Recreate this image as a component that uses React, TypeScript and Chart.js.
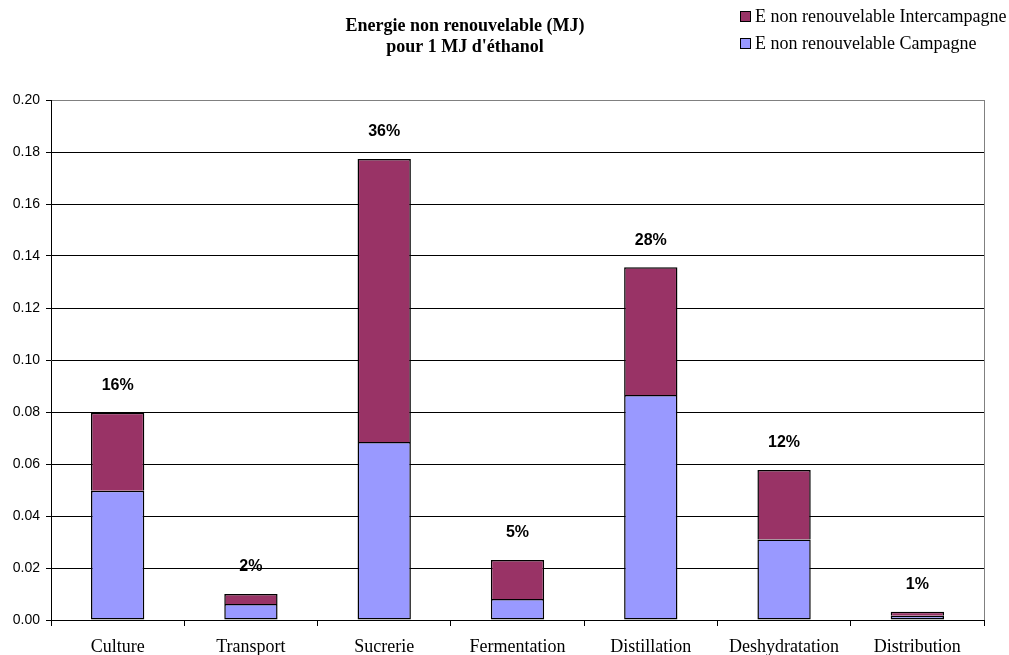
import { useEffect, useRef } from "react";
import { Chart, registerables } from "chart.js";

Chart.register(...registerables);

// Process steps along the ethanol chain
const categories = [
  "Culture",
  "Transport",
  "Sucrerie",
  "Fermentation",
  "Distillation",
  "Deshydratation",
  "Distribution",
];

// Non-renewable energy (MJ per MJ of ethanol)
const campagne = [0.0497, 0.0062, 0.0685, 0.0081, 0.0865, 0.031, 0.0016];
const intercampagne = [0.03, 0.0038, 0.1088, 0.015, 0.0492, 0.0267, 0.0016];

// Share of the total carried by each step
const shareLabels = ["16%", "2%", "36%", "5%", "28%", "12%", "1%"];

const titleLines = ["Energie non renouvelable (MJ)", "pour 1 MJ d'éthanol"];
const seriesNames = ["E non renouvelable Intercampagne", "E non renouvelable Campagne"];

const COLOR_CAMPAGNE = "#9999FF";
const COLOR_INTER = "#993366";

const decorPlugin = {
  id: "decor",
  afterDraw(chart: any) {
    const ctx = chart.ctx;
    const area = chart.chartArea;
    ctx.save();

    // plot-area right border
    ctx.strokeStyle = "#808080";
    ctx.lineWidth = 1;
    ctx.beginPath();
    ctx.moveTo(Math.round(area.right) + 0.5, area.top);
    ctx.lineTo(Math.round(area.right) + 0.5, area.bottom);
    ctx.stroke();

    // title
    ctx.fillStyle = "#000";
    ctx.font = 'bold 18px "Liberation Serif"';
    ctx.textAlign = "center";
    ctx.textBaseline = "alphabetic";
    ctx.fillText(titleLines[0], 465, 31);
    ctx.fillText(titleLines[1], 465, 52);

    // legend
    const legendColors = [COLOR_INTER, COLOR_CAMPAGNE];
    ctx.font = '18px "Liberation Serif"';
    ctx.textAlign = "left";
    seriesNames.forEach((name, i) => {
      const top = 11 + i * 27;
      ctx.fillStyle = legendColors[i];
      ctx.fillRect(740, top, 11, 11);
      ctx.strokeStyle = "#000";
      ctx.strokeRect(740.5, top + 0.5, 10, 10);
      ctx.fillStyle = "#000";
      ctx.fillText(name, 755, top + 11);
    });

    // share labels above each stack
    const meta = chart.getDatasetMeta(1);
    ctx.font = 'bold 16px "Liberation Sans"';
    ctx.textAlign = "center";
    ctx.textBaseline = "middle";
    meta.data.forEach((bar: any, i: number) => {
      ctx.fillText(shareLabels[i], bar.x, bar.y - 27);
    });

    ctx.restore();
  },
};

export default function App() {
  const canvasRef = useRef<HTMLCanvasElement | null>(null);

  useEffect(() => {
    if (!canvasRef.current) return;
    const chart = new Chart(canvasRef.current, {
      type: "bar",
      data: {
        labels: categories,
        datasets: [
          {
            label: seriesNames[1],
            data: campagne,
            backgroundColor: COLOR_CAMPAGNE,
            borderColor: "#000",
            borderWidth: 1.5,
            borderSkipped: false,
            categoryPercentage: 1,
            barPercentage: 0.4,
          },
          {
            label: seriesNames[0],
            data: intercampagne,
            backgroundColor: COLOR_INTER,
            borderColor: "#000",
            borderWidth: 1.5,
            borderSkipped: "bottom",
            categoryPercentage: 1,
            barPercentage: 0.4,
          },
        ],
      },
      options: {
        responsive: false,
        animation: false,
        devicePixelRatio: 1,
        layout: { padding: { top: 100, right: 25, left: 0, bottom: 0 } },
        plugins: {
          legend: { display: false },
          title: { display: false },
          tooltip: { enabled: false },
        },
        scales: {
          x: {
            stacked: true,
            grid: {
              offset: true,
              drawOnChartArea: false,
              drawTicks: true,
              tickLength: 6,
              color: "#000",
            },
            border: { color: "#000", width: 1 },
            ticks: {
              color: "#000",
              font: { family: "Liberation Serif", size: 18 },
              padding: 10,
              maxRotation: 0,
              autoSkip: false,
            },
            afterFit: (s: any) => {
              s.height = 35;
            },
          },
          y: {
            stacked: true,
            min: 0,
            max: 0.2,
            ticks: {
              stepSize: 0.02,
              color: "#000",
              font: { family: "Liberation Sans", size: 14 },
              padding: 6,
              callback: (v: any) => Number(v).toFixed(2),
            },
            grid: {
              color: (c: any) => (c.tick && c.tick.value >= 0.2 - 1e-9 ? "#808080" : "#000"),
              tickColor: "#000",
              tickLength: 5,
            },
            border: { color: "#000", width: 1 },
            afterFit: (s: any) => {
              s.width = 51;
            },
          },
        },
      },
      plugins: [decorPlugin],
    });
    return () => chart.destroy();
  }, []);

  return (
    <div style={{ position: "absolute", left: 0, top: 0, width: 1009, height: 655, background: "#fff" }}>
      <canvas ref={canvasRef} width={1009} height={655} />
    </div>
  );
}
